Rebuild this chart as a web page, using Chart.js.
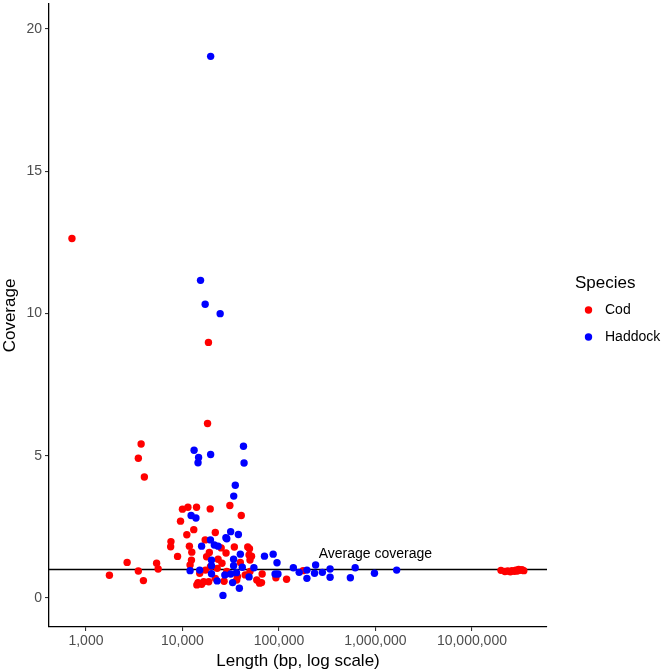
<!DOCTYPE html>
<html>
<head>
<meta charset="utf-8">
<script src="https://cdn.jsdelivr.net/npm/chart.js@4"></script>
<style>
  body { margin: 0; background: #fff; }
  #wrap { width: 662px; height: 670px; }
</style>
</head>
<body>
<div id="wrap"><canvas id="chart" width="662" height="670"></canvas></div>
<script>
// values
const codLength = [716, 18600, 18200, 3730, 3490, 4030, 10000, 11400, 14000, 19400,
    9550, 13100, 11100, 31000, 40700, 7600, 7550, 11800, 12500, 8900,
    12400, 21900, 17200, 34500, 47500, 49500, 28300, 19000, 52000, 5400,
    5600, 14500, 15800, 18700, 27000, 36500, 63000, 67000, 93000, 120000,
    2670, 3490, 1750, 3940, 15100, 17300, 22900, 25700, 28800, 37200,
    44700, 50100, 58900, 16600, 21900, 23400, 19500, 39800, 49000, 50100,
    66000, 178000, 14100, 25200, 17800, 12000,
    2.0e7, 2.2e7, 2.35e7, 2.5e7, 2.6e7, 2.75e7, 2.85e7, 2.95e7, 3.05e7, 3.15e7, 3.3e7, 3.45e7];
const codCoverage = [12.63, 8.98, 6.13, 5.41, 4.91, 4.25, 3.12, 3.19, 3.19, 3.13,
    2.70, 2.40, 2.22, 3.25, 2.90, 1.98, 1.80, 1.82, 1.61, 1.46,
    1.33, 2.30, 2.04, 1.79, 1.79, 1.73, 1.58, 1.60, 1.47, 1.22,
    1.02, 0.54, 0.48, 0.57, 0.59, 0.63, 0.52, 0.84, 0.71, 0.66,
    1.25, 0.95, 0.80, 0.61, 0.87, 0.98, 1.04, 1.22, 0.93, 0.75,
    0.81, 0.93, 0.63, 0.57, 0.69, 1.36, 1.10, 1.25, 1.51, 1.33,
    0.54, 0.96, 0.46, 1.76, 1.45, 1.16,
    0.97, 0.93, 0.95, 0.92, 0.96, 0.94, 0.98, 0.95, 1.00, 0.97, 0.99, 0.96];

const haddockLength = [19600, 15400, 17200, 24600, 13200, 14700, 14500, 19600, 42900, 43500,
    35300, 34000, 12300, 13800, 31600, 28200, 28800, 38000, 15800, 19500,
    21400, 23400, 39800, 70800, 87100, 95500, 20000, 20000, 33900, 33900,
    41700, 55000, 12000, 15100, 20000, 27500, 31600, 36300, 49000, 91200,
    97700, 22900, 33100, 38900, 26300, 141000, 162000, 195000, 195000, 240000,
    234000, 282000, 339000, 339000, 550000, 617000, 977000, 1660000];
const haddockCoverage = [19.03, 11.16, 10.32, 9.99, 5.19, 4.94, 4.75, 5.04, 5.33, 4.74,
    3.96, 3.58, 2.90, 2.81, 2.33, 2.12, 2.08, 2.23, 1.82, 2.04,
    1.86, 1.82, 1.54, 1.47, 1.54, 1.24, 1.33, 1.13, 1.36, 1.13,
    1.08, 1.06, 0.96, 0.98, 0.85, 0.81, 0.84, 0.89, 0.74, 0.84,
    0.84, 0.60, 0.54, 0.34, 0.09, 1.06, 0.90, 0.98, 0.69, 1.16,
    0.87, 0.90, 1.02, 0.73, 0.71, 1.06, 0.87, 0.98];

const xTicks = [1000, 10000, 100000, 1000000, 10000000];
const yTicks = [0, 5, 10, 15, 20];
const averageCoverage = 1;
const xRange = [414, 6e7];
const yRange = [-1.02, 20.87];

const RED = "#FF0000";
const BLUE = "#0000FF";
const FONT = "'Liberation Sans', Arial, sans-serif";

function toPoints(xs, ys) {
    return xs.map((x, i) => ({ x: x, y: ys[i] }));
}

// legend + line label, drawn on the canvas
const extras = {
    id: "extras",
    afterDraw(chart) {
        const ctx = chart.ctx;
        const xs = chart.scales.x, ys = chart.scales.y;
        ctx.save();
        ctx.fillStyle = "#000";
        ctx.textBaseline = "middle";
        ctx.textAlign = "center";
        ctx.font = "14px " + FONT;
        ctx.fillText("Average coverage", xs.getPixelForValue(1.0e6), ys.getPixelForValue(1.55));

        ctx.textAlign = "left";
        ctx.font = "17px " + FONT;
        ctx.fillText("Species", 575, 283);
        ctx.font = "14px " + FONT;
        [["Cod", RED, 310], ["Haddock", BLUE, 337]].forEach(([name, col, y]) => {
            ctx.fillStyle = col;
            ctx.beginPath();
            ctx.arc(588.5, y, 3.7, 0, Math.PI * 2);
            ctx.fill();
            ctx.fillStyle = "#000";
            ctx.fillText(name, 605, y);
        });
        ctx.restore();
    }
};

new Chart(document.getElementById("chart"), {
    type: "scatter",
    data: {
        datasets: [
            {
                type: "line",
                label: "Average coverage",
                data: [{ x: xRange[0], y: averageCoverage }, { x: xRange[1], y: averageCoverage }],
                borderColor: "#000",
                borderWidth: 1.6,
                pointRadius: 0,
                order: 3
            },
            {
                label: "Cod",
                data: toPoints(codLength, codCoverage),
                backgroundColor: RED,
                borderWidth: 0,
                pointRadius: 3.7,
                order: 2
            },
            {
                label: "Haddock",
                data: toPoints(haddockLength, haddockCoverage),
                backgroundColor: BLUE,
                borderWidth: 0,
                pointRadius: 3.7,
                order: 1
            }
        ]
    },
    options: {
        responsive: false,
        animation: false,
        layout: { padding: { top: 0, right: 115, bottom: 0, left: 0 } },
        plugins: {
            legend: { display: false },
            tooltip: { enabled: false }
        },
        scales: {
            x: {
                type: "logarithmic",
                min: xRange[0],
                max: xRange[1],
                afterBuildTicks: s => { s.ticks = xTicks.map(v => ({ value: v })); },
                afterFit: s => { s.height = 43; s.paddingLeft = 0; s.paddingRight = 0; },
                ticks: {
                    autoSkip: false,
                    maxRotation: 0,
                    padding: 2,
                    color: "#4d4d4d",
                    font: { family: FONT, size: 14 },
                    callback: v => Number(v).toLocaleString("en-US")
                },
                grid: { drawOnChartArea: false, tickLength: 4, color: "#333", lineWidth: 1.1 },
                border: { color: "#000", width: 1.3 },
                title: {
                    display: true,
                    text: "Length (bp, log scale)",
                    color: "#000",
                    padding: { top: 0, bottom: -2 },
                    font: { family: FONT, size: 17 }
                }
            },
            y: {
                min: yRange[0],
                max: yRange[1],
                afterBuildTicks: s => { s.ticks = yTicks.map(v => ({ value: v })); },
                afterFit: s => { s.width = 49; s.paddingTop = 0; s.paddingBottom = 0; },
                ticks: {
                    padding: 3,
                    color: "#4d4d4d",
                    font: { family: FONT, size: 14 }
                },
                grid: { drawOnChartArea: false, tickLength: 4, color: "#333", lineWidth: 1.1 },
                border: { color: "#000", width: 1.3 },
                title: {
                    display: true,
                    text: "Coverage",
                    color: "#000",
                    padding: 0,
                    font: { family: FONT, size: 17 }
                }
            }
        }
    },
    plugins: [extras]
});
</script>
</body>
</html>
